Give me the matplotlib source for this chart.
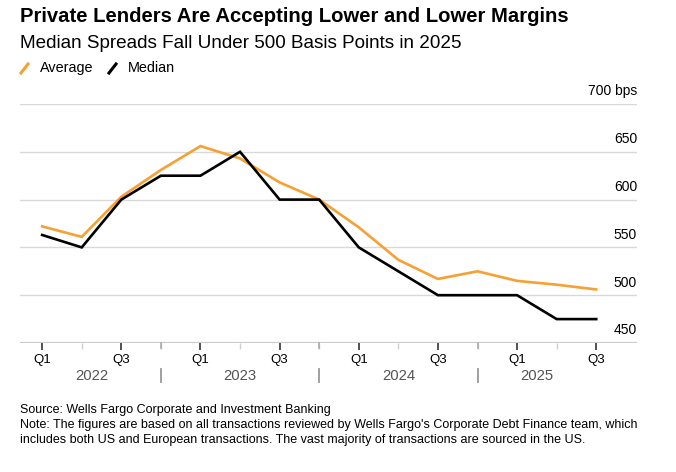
import matplotlib
matplotlib.use('Agg')
import matplotlib.pyplot as plt
from matplotlib.lines import Line2D
from matplotlib.transforms import blended_transform_factory

plt.rcParams['font.family'] = ['Liberation Sans', 'DejaVu Sans']

quarters = ['Q1', 'Q2', 'Q3', 'Q4'] * 3 + ['Q1', 'Q2', 'Q3']
years = ['2022', '2023', '2024', '2025']
average = [572, 561, 603, 631, 656, 643, 618, 600, 571, 537, 517, 525, 515, 511, 506]
median = [563, 550, 600, 625, 625, 650, 600, 600, 550, 525, 500, 500, 500, 475, 475]
yticks = [450, 500, 550, 600, 650, 700]

ORANGE = '#f7a033'
GRID = '#d9d9d9'

fig = plt.figure(figsize=(6.76, 4.72), dpi=100)
ax = fig.add_axes([20 / 676, 1 - 343 / 472, 617 / 676, 239 / 472])

x = list(range(len(quarters)))
ax.plot(x, average, color=ORANGE, lw=1.9, solid_joinstyle='miter', zorder=3)
ax.plot(x, median, color='black', lw=1.9, solid_joinstyle='miter', zorder=4)

ax.set_xlim(-0.56, 15.03)
ax.set_ylim(450, 700)

# gridlines + right side labels sitting on top of them
for v in yticks[1:]:
    ax.axhline(v, color=GRID, lw=1.0, zorder=1)
ax.axhline(450, color='#cccccc', lw=1.6, zorder=2)
tr = blended_transform_factory(ax.transAxes, ax.transData)
for v in yticks:
    lab = f'{v} bps' if v == 700 else str(v)
    ax.annotate(lab, (1.0, v), xycoords=tr, xytext=(0, 4), textcoords='offset points',
                ha='right', va='bottom', fontsize=10, color='black')

for s in ax.spines.values():
    s.set_visible(False)
ax.set_yticks([])

# quarter ticks
major = [i for i, q in enumerate(quarters) if q in ('Q1', 'Q3')]
ax.set_xticks(major)
ax.set_xticklabels([quarters[i] for i in major], fontsize=9.5)
ax.tick_params(axis='x', length=5, width=1.2, color='#333333', pad=3)
minor = [i for i, q in enumerate(quarters) if q in ('Q2', 'Q4')]
ax.set_xticks(minor, minor=True)
ax.tick_params(axis='x', which='minor', length=4, width=1.0, color='#d0d0d0')
for i in minor:
    if quarters[i] == 'Q4':
        ax.plot([i, i], [0, -0.02], transform=blended_transform_factory(ax.transData, ax.transAxes),
                color='#aaaaaa', lw=1.2, clip_on=False)

# year labels and separators
bx = blended_transform_factory(ax.transData, ax.transAxes)
q4 = [i for i, q in enumerate(quarters) if q == 'Q4']
bounds = [-0.5] + q4 + [len(quarters) - 1]
for k, yr in enumerate(years):
    ax.text((bounds[k] + bounds[k + 1]) / 2, -0.14, yr, transform=bx, ha='center', va='center',
            fontsize=10.7, color='#555555')
for i in q4:
    ax.plot([i, i], [-0.11, -0.165], transform=bx, color='#999999', lw=1.3, clip_on=False)

# titles
fig.text(20 / 676, 1 - 16 / 472, 'Private Lenders Are Accepting Lower and Lower Margins',
         fontsize=14.6, fontweight='bold', va='center', ha='left')
fig.text(20 / 676, 1 - 43 / 472, 'Median Spreads Fall Under 500 Basis Points in 2025',
         fontsize=13.6, va='center', ha='left')

# legend with slanted markers
for x0, col, lab in [(21, ORANGE, 'Average'), (109, 'black', 'Median')]:
    fig.add_artist(Line2D([x0 / 676, (x0 + 7) / 676], [1 - 73 / 472, 1 - 64 / 472],
                          color=col, lw=2.2, transform=fig.transFigure))
    fig.text((x0 + 19) / 676, 1 - 68 / 472, lab, fontsize=10.4, va='center', ha='left')

# footer
fig.text(20 / 676, 1 - 410 / 472, 'Source: Wells Fargo Corporate and Investment Banking',
         fontsize=9.0, va='center', ha='left')
fig.text(20 / 676, 1 - 425 / 472,
         "Note: The figures are based on all transactions reviewed by Wells Fargo's Corporate Debt Finance team, which",
         fontsize=9.0, va='center', ha='left')
fig.text(20 / 676, 1 - 440 / 472,
         'includes both US and European transactions. The vast majority of transactions are sourced in the US.',
         fontsize=9.0, va='center', ha='left')

fig.savefig('out.png', dpi=100)
